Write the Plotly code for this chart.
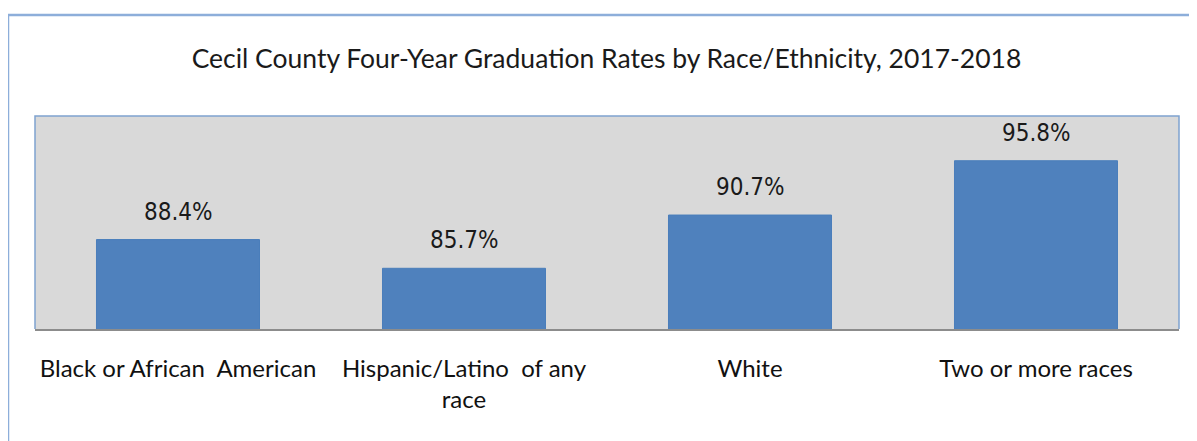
import plotly.graph_objects as go

# Cecil County four-year graduation rates, 2017-2018
groups = ["Black or African  American", "Hispanic/Latino  of any<br>race", "White", "Two or more races"]
rates = [88.4, 85.7, 90.7, 95.8]
labels = ["88.4%", "85.7%", "90.7%", "95.8%"]

font_main = "Lato, Open Sans, sans-serif"

fig = go.Figure()
fig.add_trace(go.Bar(
    x=groups, y=rates,
    marker=dict(color="#4F81BD", line=dict(color="#4A7EBB", width=1)),
    width=0.57,
))

# data labels above bars
for g, r, t in zip(groups, rates, labels):
    fig.add_annotation(x=g, y=r, text=t, showarrow=False, yanchor="bottom", yshift=12,
                       font=dict(size=24, color="#1a1a1a", family="DejaVu Sans Condensed, DejaVu Sans"))

# page body has an 8px margin, so margins are shifted to keep the plot area in place
fig.update_layout(
    width=1197, height=441,
    margin=dict(l=27, r=26, t=108, b=120),
    plot_bgcolor="#D9D9D9", paper_bgcolor="white",
    showlegend=False,
    title=dict(text="Cecil County Four-Year Graduation Rates by Race/Ethnicity, 2017-2018",
               x=0.5, xanchor="center", y=0.886, yanchor="middle",
               font=dict(size=26.5, color="#1a1a1a", family=font_main)),
    xaxis=dict(showgrid=False, ticks="", tickfont=dict(size=24, color="#111111", family=font_main),
               showline=True, linecolor="#8C8C8C", linewidth=2, ticklabelstandoff=17),
    yaxis=dict(range=[80, 100], visible=False, showgrid=False),
)

# plot area border (top/left/right) and outer chart frame
fig.add_shape(type="path", xref="paper", yref="paper",
              path="M 0 0 L 0 1 L 1 1 L 1 0", line=dict(color="#7FA3CF", width=1.5))
fig.add_shape(type="rect", xref="paper", yref="paper",
              x0=-0.0236, x1=1.03, y0=-0.6, y1=1.474,
              line=dict(color="#8DAEDA", width=2.5), layer="below")

fig.write_html("out.html")
